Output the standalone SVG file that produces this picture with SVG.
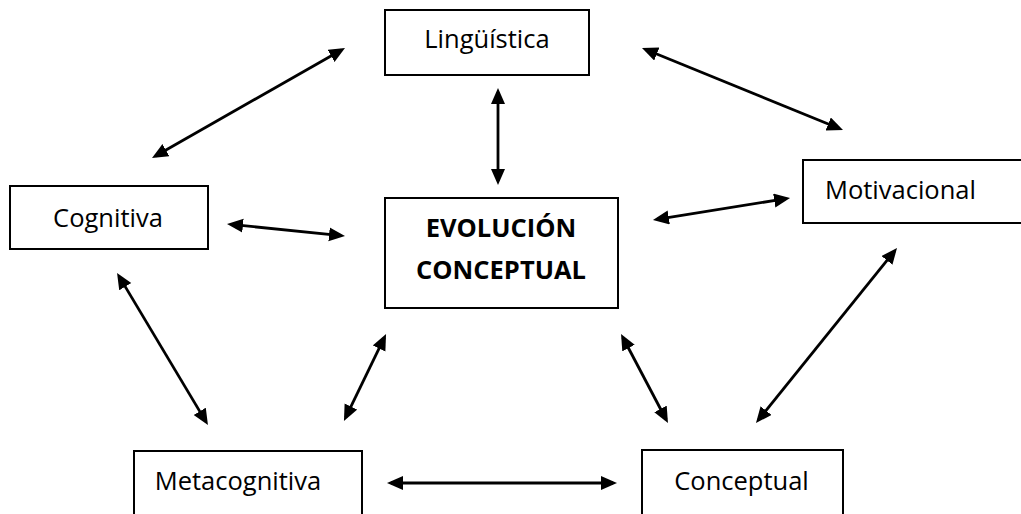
<svg xmlns="http://www.w3.org/2000/svg" width="1021" height="514" viewBox="0 0 1021 514">
  <style>
    .box { fill: #ffffff; stroke: #000000; stroke-width: 2; }
    .lbl { font-family: "Open Sans", "Noto Sans", sans-serif; font-size: 25.5px; fill: #000000; }
    .bold { font-weight: bold; }
    .conn { stroke: #000000; stroke-width: 2.8; fill: none; marker-start: url(#ah); marker-end: url(#ah); }
  </style>
  <defs>
    <marker id="ah" markerUnits="userSpaceOnUse" markerWidth="18" markerHeight="16" refX="12" refY="7" orient="auto-start-reverse">
      <path d="M0,0 L16,7 L0,14 z" fill="#000000"/>
    </marker>
  </defs>
  <rect width="1021" height="514" fill="#ffffff"/>

  <g id="connectors">
    <line class="conn" x1="155.5" y1="156" x2="341.5" y2="50"/>
    <line class="conn" x1="645.7" y1="49.5" x2="839.3" y2="128.5"/>
    <line class="conn" x1="498" y1="92" x2="498" y2="181"/>
    <line class="conn" x1="231" y1="224.4" x2="341" y2="235.6"/>
    <line class="conn" x1="656.9" y1="219.4" x2="786.1" y2="198.6"/>
    <line class="conn" x1="119.1" y1="276.4" x2="205.9" y2="421.6"/>
    <line class="conn" x1="384.3" y1="337.6" x2="345.7" y2="417.4"/>
    <line class="conn" x1="622.9" y1="337.5" x2="666.1" y2="419.5"/>
    <line class="conn" x1="894.5" y1="251.1" x2="758.5" y2="419.9"/>
    <line class="conn" x1="391" y1="483" x2="613" y2="483"/>
  </g>

  <g id="node-linguistica">
    <rect class="box" x="385" y="10" width="204" height="65"/>
    <text class="lbl" x="487" y="48" text-anchor="middle">Lingüística</text>
  </g>

  <g id="node-cognitiva">
    <rect class="box" x="10" y="186" width="198" height="63"/>
    <text class="lbl" x="108" y="227" text-anchor="middle">Cognitiva</text>
  </g>

  <g id="node-evolucion">
    <rect class="box" x="385" y="198" width="233" height="110"/>
    <text class="lbl bold" x="501" y="237" text-anchor="middle">EVOLUCIÓN</text>
    <text class="lbl bold" x="501" y="279" text-anchor="middle">CONCEPTUAL</text>
  </g>

  <g id="node-motivacional">
    <rect class="box" x="803" y="160" width="225" height="63"/>
    <text class="lbl" x="825" y="199">Motivacional</text>
  </g>

  <g id="node-metacognitiva">
    <rect class="box" x="134" y="451" width="228" height="70"/>
    <text class="lbl" x="238" y="490" text-anchor="middle">Metacognitiva</text>
  </g>

  <g id="node-conceptual">
    <rect class="box" x="642" y="450" width="201" height="70"/>
    <text class="lbl" x="741.5" y="490" text-anchor="middle">Conceptual</text>
  </g>
</svg>
